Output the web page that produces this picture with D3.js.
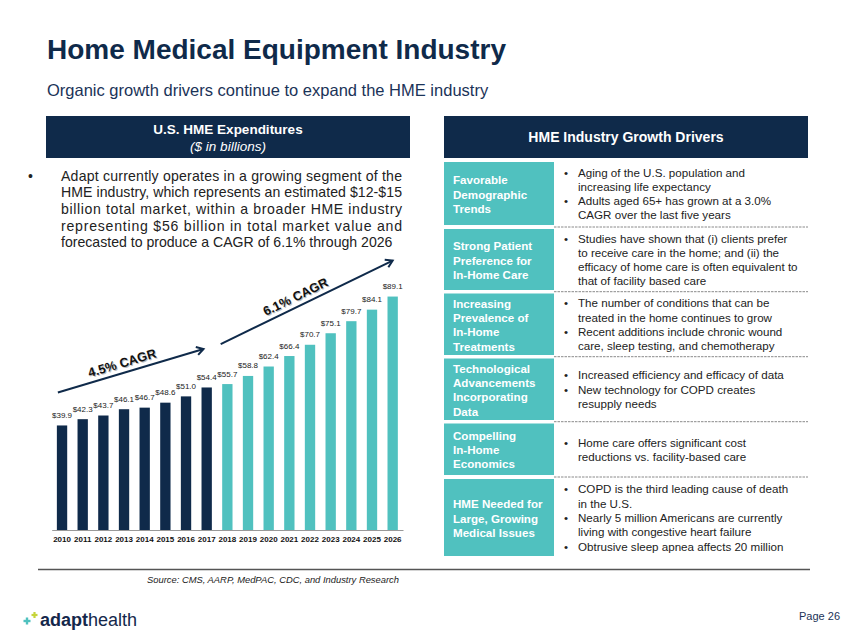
<!DOCTYPE html>
<html><head><meta charset="utf-8">
<script src="https://cdn.jsdelivr.net/npm/d3@7"></script>
<style>
body{margin:0;background:#fff}
svg{display:block}
text{font-family:Arial,"Liberation Sans",Helvetica,sans-serif}
</style>
</head><body><svg id="c" width="847" height="635"></svg>
<script>
// ---------------- DATA ----------------
const years = [2010,2011,2012,2013,2014,2015,2016,2017,2018,2019,2020,2021,2022,2023,2024,2025,2026];
const expenditures = [39.9,42.3,43.7,46.1,46.7,48.6,51.0,54.4,55.7,58.8,62.4,66.4,70.7,75.1,79.7,84.1,89.1];
const forecastFrom = 2018;
const cagrLabels = ["4.5% CAGR","6.1% CAGR"];
const cagrFrom = [2010,2018];
const cagrTo = [2017,2026];

const titleText = "Home Medical Equipment Industry";
const subtitleText = "Organic growth drivers continue to expand the HME industry";
const leftHeader = ["U.S. HME Expenditures","($ in billions)"];
const leftParagraph = [
  "Adapt currently operates in a growing segment of the",
  "HME industry, which represents an estimated $12-$15",
  "billion total market, within a broader HME industry",
  "representing $56 billion in total market value and",
  "forecasted to produce a CAGR of 6.1% through 2026"
];
const rightHeader = "HME Industry Growth Drivers";
const driverNames = [
  ["Favorable","Demographic","Trends"],
  ["Strong Patient","Preference for","In-Home Care"],
  ["Increasing","Prevalence of","In-Home","Treatments"],
  ["Technological","Advancements","Incorporating","Data"],
  ["Compelling","In-Home","Economics"],
  ["HME Needed for","Large, Growing","Medical Issues"]
];
const driverBullets = [
  [["Aging of the U.S. population and","increasing life expectancy"],["Adults aged 65+ has grown at a 3.0%","CAGR over the last five years"]],
  [["Studies have shown that (i) clients prefer","to receive care in the home; and (ii) the","efficacy of home care is often equivalent to","that of facility based care"]],
  [["The number of conditions that can be","treated in the home continues to grow"],["Recent additions include chronic wound","care, sleep testing, and chemotherapy"]],
  [["Increased efficiency and efficacy of data"],["New technology for COPD creates","resupply needs"]],
  [["Home care offers significant cost","reductions vs. facility-based care"]],
  [["COPD is the third leading cause of death","in the U.S."],["Nearly 5 million Americans are currently","living with congestive heart failure"],["Obtrusive sleep apnea affects 20 million"]]
];
const sourceText = "Source: CMS, AARP, MedPAC, CDC, and Industry Research";
const pageText = "Page 26";

// ---------------- STYLE / LAYOUT ----------------
const NAVY = "#0f2a4a", TEAL = "#50c1bf", TEXT = "#222";
const svg = d3.select("#c");

// Title
svg.append("text").attr("x",47).attr("y",59).attr("font-size",28).attr("font-weight","bold")
  .attr("fill",NAVY).text(titleText);
svg.append("text").attr("x",47).attr("y",96).attr("font-size",16.5).attr("fill","#1b3358").text(subtitleText);

// Left header
svg.append("rect").attr("x",46).attr("y",116).attr("width",364).attr("height",42).attr("fill",NAVY);
svg.append("text").attr("x",228).attr("y",134).attr("text-anchor","middle").attr("font-size",13.5)
  .attr("font-weight","bold").attr("fill","#fff").text(leftHeader[0]);
svg.append("text").attr("x",228).attr("y",151).attr("text-anchor","middle").attr("font-size",13.5)
  .attr("font-style","italic").attr("fill","#fff").text(leftHeader[1]);

// Left paragraph (justified)
svg.append("text").attr("x",28).attr("y",180.5).attr("font-size",14).attr("fill",TEXT).text("\u2022");
leftParagraph.forEach((line,i)=>{
  const t = svg.append("text").attr("x",61).attr("y",180.7+i*16.67).attr("font-size",14.1).attr("fill",TEXT).text(line);
  if(i<leftParagraph.length-1) t.attr("textLength",341).attr("lengthAdjust","spacing");
});

// ---------------- CHART ----------------
const x = d3.scaleBand().domain(years).range([51.7,403]).paddingInner(0.5).paddingOuter(0.25);
const y = d3.scaleLinear().domain([0,100]).range([530,268]);
const data = years.map((yr,i)=>({year:yr,value:expenditures[i]}));

const chart = svg.append("g");
chart.selectAll("rect.bar").data(data).join("rect").attr("class","bar")
  .attr("x",d=>x(d.year)).attr("width",x.bandwidth())
  .attr("y",d=>y(d.value)).attr("height",d=>y(0)-y(d.value))
  .attr("fill",d=>d.year>=forecastFrom?TEAL:NAVY);

chart.selectAll("text.val").data(data).join("text").attr("class","val")
  .attr("x",d=>x(d.year)+x.bandwidth()/2).attr("y",d=>y(d.value)-7.5)
  .attr("text-anchor","middle").attr("font-size",8).attr("fill","#222")
  .text(d=>"$"+d.value.toFixed(1));

const xAxis = chart.append("g").attr("transform",`translate(0,${y(0)})`)
  .call(d3.axisBottom(x).tickSize(0).tickPadding(6).tickFormat(d3.format("d")));
xAxis.select(".domain").attr("stroke","#999").attr("stroke-width",1.2);
xAxis.selectAll("text").attr("font-size",8).attr("font-weight","bold").attr("fill","#111")
  .attr("font-family",'Arial,"Liberation Sans",sans-serif');

// CAGR arrows
const lifts = [[33,38.5],[40,36]];
const xOff = [[1,2],[-1.5,x.bandwidth()/2]];
cagrLabels.forEach((lab,i)=>{
  const i0 = years.indexOf(cagrFrom[i]), i1 = years.indexOf(cagrTo[i]);
  const x0 = x(cagrFrom[i])+xOff[i][0], y0 = y(expenditures[i0])-lifts[i][0];
  const x1 = x(cagrTo[i])+xOff[i][1], y1 = y(expenditures[i1])-lifts[i][1];
  const ang = Math.atan2(y1-y0,x1-x0);
  chart.append("line").attr("x1",x0).attr("y1",y0).attr("x2",x1).attr("y2",y1)
    .attr("stroke",NAVY).attr("stroke-width",2);
  const h = 8, spread = 0.55;
  const p = `M${x1-h*Math.cos(ang-spread)},${y1-h*Math.sin(ang-spread)} L${x1},${y1} L${x1-h*Math.cos(ang+spread)},${y1-h*Math.sin(ang+spread)}`;
  chart.append("path").attr("d",p).attr("fill","none").attr("stroke",NAVY).attr("stroke-width",2)
    .attr("stroke-linejoin","miter");
  const t = 0.46, perp = 10;
  const cx = x0+(x1-x0)*t + perp*Math.sin(ang), cy = y0+(y1-y0)*t - perp*Math.cos(ang);
  const deg = ang*180/Math.PI;
  chart.append("text").attr("transform",`translate(${cx+1},${cy+1}) rotate(${deg})`)
    .attr("text-anchor","middle").attr("dy","0.35em").attr("font-size",12.8).attr("font-weight","bold")
    .attr("fill","#bdbdbd").text(lab);
  chart.append("text").attr("transform",`translate(${cx},${cy}) rotate(${deg})`)
    .attr("text-anchor","middle").attr("dy","0.35em").attr("font-size",12.8).attr("font-weight","bold")
    .attr("fill","#111").text(lab);
});

// ---------------- RIGHT PANEL ----------------
svg.append("rect").attr("x",444).attr("y",116).attr("width",364).attr("height",42).attr("fill",NAVY);
svg.append("text").attr("x",626).attr("y",142).attr("text-anchor","middle").attr("font-size",14)
  .attr("font-weight","bold").attr("fill","#fff").text(rightHeader);

const rowTops = [162,229,293.5,358.5,423.5,479];
const rowBots = [225,290,355,420,475,556];
const sepY = [227,291.7,356.7,421.7,477];
sepY.forEach(sy=>{
  svg.append("line").attr("x1",554).attr("x2",808).attr("y1",sy).attr("y2",sy)
    .attr("stroke","#8a8a8a").attr("stroke-width",1).attr("stroke-dasharray","2.5,1");
});
driverNames.forEach((names,r)=>{
  const top = rowTops[r], bot = rowBots[r], mid=(top+bot)/2;
  svg.append("rect").attr("x",444).attr("y",top).attr("width",110).attr("height",bot-top).attr("fill",TEAL);
  const lh = 14.2;
  const start = mid - (names.length-1)*lh/2 + 1;
  names.forEach((n,k)=>{
    svg.append("text").attr("x",453).attr("y",start+k*lh+4).attr("font-size",11.6).attr("font-weight","bold")
      .attr("fill","#fff").text(n);
  });
  const lines = [];
  driverBullets[r].forEach(b=>b.forEach((l,k)=>lines.push({text:l,first:k===0})));
  const blh = 14.3;
  const bstart = mid - (lines.length-1)*blh/2 + 0.5;
  lines.forEach((l,k)=>{
    const yy = bstart+k*blh+4;
    if(l.first) svg.append("text").attr("x",564).attr("y",yy).attr("font-size",11.5).attr("fill",TEXT).text("\u2022");
    svg.append("text").attr("x",578).attr("y",yy).attr("font-size",11.6).attr("fill",TEXT).text(l.text);
  });
});

// ---------------- FOOTER ----------------
svg.append("line").attr("x1",38).attr("x2",810).attr("y1",569.5).attr("y2",569.5).attr("stroke","#555").attr("stroke-width",1.3);
svg.append("text").attr("x",147).attr("y",583).attr("font-size",9.4).attr("font-style","italic").attr("fill","#222").text(sourceText);
svg.append("text").attr("x",840).attr("y",620).attr("text-anchor","end").attr("font-size",11).attr("fill","#1b3358").text(pageText);

// logo
const lg = svg.append("g");
function plus(cx,cy,s,w,col){
  lg.append("rect").attr("x",cx-s/2).attr("y",cy-w/2).attr("width",s).attr("height",w).attr("fill",col);
  lg.append("rect").attr("x",cx-w/2).attr("y",cy-s/2).attr("width",w).attr("height",s).attr("fill",col);
}
plus(27,621,7,2.4,"#4fc1bf");
plus(34.5,615,6,2.2,"#c6d43a");
const lt = lg.append("text").attr("x",40).attr("y",626).attr("font-size",18).attr("fill","#14284b");
lt.append("tspan").attr("font-weight","bold").text("adapt");
lt.append("tspan").text("health");
</script></body></html>
